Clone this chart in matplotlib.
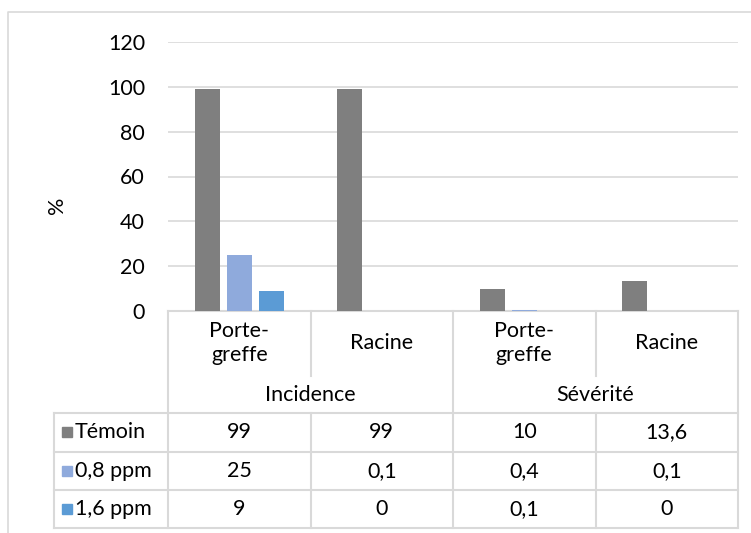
import matplotlib.pyplot as plt
from matplotlib.patches import Rectangle

plt.rcParams['font.family'] = ['Lato', 'DejaVu Sans']

categories = ['Porte-\ngreffe', 'Racine', 'Porte-\ngreffe', 'Racine']
groups = ['Incidence', 'Sévérité']
series_names = ['Témoin', '0,8 ppm', '1,6 ppm']
temoin = [99, 99, 10, 13.6]
ppm08 = [25, 0.1, 0.4, 0.1]
ppm16 = [9, 0, 0.1, 0]
labels_temoin = ['99', '99', '10', '13,6']
labels_08 = ['25', '0,1', '0,4', '0,1']
labels_16 = ['9', '0', '0,1', '0']
yticks = [0, 20, 40, 60, 80, 100, 120]

colors = ['#7f7f7f', '#8faadc', '#5b9bd5']
grid_c = '#d9d9d9'
W, H = 751, 533
fs = 15.5

fig = plt.figure(figsize=(W / 100, H / 100), dpi=100)

# overlay in pixel coords for frame and table
ov = fig.add_axes([0, 0, 1, 1])
ov.set_xlim(0, W)
ov.set_ylim(H, 0)
ov.axis('off')
ov.plot([8, 8, W], [H, 12, 12], color=grid_c, lw=1.2)

# bar axes
x0, x1, ytop, ybot = 168, 738, 42, 311
ax = fig.add_axes([x0 / W, 1 - ybot / H, (x1 - x0) / W, (ybot - ytop) / H])
ax.set_xlim(-0.5, 3.5)
ax.set_ylim(0, 120)
w = 0.175
step = 0.225
for i, (vals, c) in enumerate(zip([temoin, ppm08, ppm16], colors)):
    ax.bar([k + (i - 1) * step for k in range(4)], vals, width=w, color=c, zorder=3)
ax.set_yticks(yticks)
ax.set_yticklabels([str(t) for t in yticks], fontsize=fs)
ax.tick_params(axis='y', length=0, pad=16.5)
ax.set_xticks([])
for s in ax.spines.values():
    s.set_visible(False)
for t in yticks[1:]:
    ax.axhline(t, color=grid_c, lw=1.2, zorder=0)
ax.patch.set_alpha(0)
fig.text(57 / W, 1 - 205 / H, '%', rotation=90, fontsize=fs, ha='center', va='center')

# table
lc = dict(color=grid_c, lw=1.5)
cols = [x0 + k * (x1 - x0) / 4 for k in range(5)]
ov.plot([x0, x1], [ybot, ybot], **lc)
for k in [0, 2, 4]:
    ov.plot([cols[k], cols[k]], [ybot, 528], **lc)
for k in [1, 3]:
    ov.plot([cols[k], cols[k]], [ybot, 376], **lc)
    ov.plot([cols[k], cols[k]], [413, 528], **lc)
rows = [413, 451.5, 490, 528]
for r in rows:
    ov.plot([54, x1], [r, r], **lc)
ov.plot([54, 54], [413, 528], **lc)

for k, lab in enumerate(categories):
    ov.text((cols[k] + cols[k + 1]) / 2, 343, lab, ha='center', va='center',
            fontsize=fs, linespacing=1.2)
for g, lab in enumerate(groups):
    ov.text((cols[2 * g] + cols[2 * g + 2]) / 2, 395, lab, ha='center',
            va='center', fontsize=fs)

for r, (name, labs, c) in enumerate(zip(series_names,
                                         [labels_temoin, labels_08, labels_16],
                                         colors)):
    yc = (rows[r] + rows[r + 1]) / 2
    ov.add_patch(Rectangle((62, yc - 5), 10, 10, color=c))
    ov.text(75, yc, name, ha='left', va='center', fontsize=fs)
    for k, lab in enumerate(labs):
        ov.text((cols[k] + cols[k + 1]) / 2, yc, lab, ha='center',
                va='center', fontsize=fs)

fig.savefig('out.png', dpi=100)
